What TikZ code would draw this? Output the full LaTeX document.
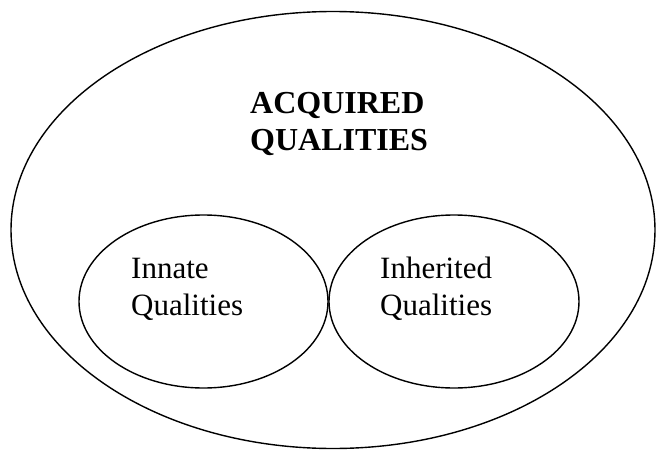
\documentclass[tikz,border=0pt]{standalone}
\usepackage{fontspec}
\setmainfont{Liberation Serif}
\usetikzlibrary{shapes.geometric}
\pgfkeys{tikz/qualityring/.style={ellipse,draw,line width=1.4pt,inner sep=0pt}}
\pgfkeys{tikz/qualitytext/.style={anchor=base west,align=left,inner sep=0pt,font=\fontsize{31}{37}\selectfont}}

\begin{document}
\begin{tikzpicture}[x=1pt,y=-1pt]
    \useasboundingbox (0,0) rectangle (657,450);
    \node[qualityring,minimum width=644pt,minimum height=437pt] (acq) at (333,230) {};
    \node[qualityring,minimum width=249pt,minimum height=173pt] (inn) at (203.5,301.5) {};
    \node[qualityring,minimum width=250pt,minimum height=173pt] (inh) at (454,301.5) {};
    \node[qualitytext,font=\bfseries\fontsize{32}{37}\selectfont] (acqtext) at (250,150) {ACQUIRED\\QUALITIES};
    \node[qualitytext] (inntext) at (131,315) {Innate\\Qualities};
    \node[qualitytext] (inhtext) at (380,315) {Inherited\\Qualities};
\end{tikzpicture}
\end{document}
